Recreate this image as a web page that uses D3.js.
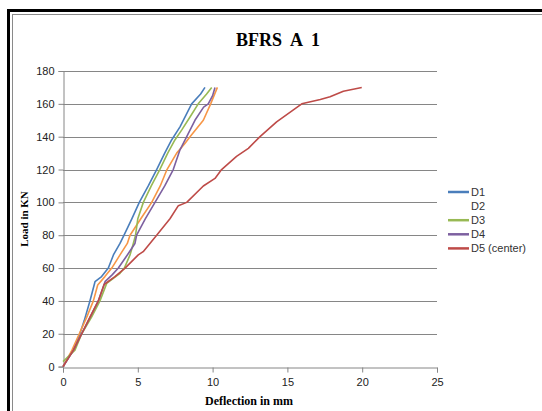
<!DOCTYPE html>
<html>
<head>
<meta charset="utf-8">
<script src="https://cdn.jsdelivr.net/npm/d3@7"></script>
<style>
  body { margin: 0; background: #fff; }
  svg { display: block; }
</style>
</head>
<body>
<script>
// deflection (mm), load (kN)
let d1 = [[0,0],[0.69,10],[1.13,20],[1.42,28],[1.8,40],[2.14,51.7],[2.58,54.8],[3.03,60],[3.37,68],[3.81,75],[4.08,80],[4.6,90],[5.1,100],[5.7,110],[6.26,120],[6.8,130],[7.26,138],[7.82,146],[8.27,154],[8.6,160],[9.2,166],[9.49,170]];
let d2 = [[0,0],[0.6,10],[1.09,20],[1.58,30],[2.03,40],[2.32,49.7],[2.8,54.8],[3.26,60],[3.81,68],[4.3,75],[4.48,80],[5.2,90],[5.93,100],[6.5,110],[6.95,120],[7.6,130],[8.16,136],[8.49,140],[9.38,150],[9.87,160],[10.32,170]];
let d3v = [[0,3],[0.8,10],[1.25,20],[1.9,30],[2.47,40],[2.92,50.7],[3.81,56.8],[4.1,60],[4.48,68],[4.7,75],[4.85,80],[5.0,90],[5.37,100],[5.9,110],[6.47,120],[7.0,130],[7.48,138],[7.93,144],[8.49,152],[9.04,160],[9.6,166],[9.94,170]];
let d4 = [[0,0],[0.7,10],[1.25,20],[1.8,30],[2.36,40],[2.81,51.7],[3.3,56],[3.7,60],[4.3,68],[4.81,75],[4.92,80],[5.5,90],[6.15,100],[6.8,110],[7.37,120],[7.82,132],[8.27,140],[8.82,150],[9.4,158],[9.71,160],[10.0,165],[10.16,170]];
let d5 = [[0,0],[0.7,10],[1.25,20],[1.8,30],[2.36,40],[2.75,50],[3.47,54.8],[4.15,60],[5.03,68],[5.36,70],[5.81,75],[6.26,80],[7.15,90],[7.71,98],[8.27,100],[9.38,110],[10.16,114.6],[10.6,120],[11.6,128],[12.39,132.9],[13.17,140],[14.28,149],[15.4,156.3],[15.96,160],[17.2,162.7],[17.85,164.3],[18.74,167.7],[19.97,170]];

let names = ["D1", "D2", "D3", "D4", "D5 (center)"];
let colors = ["#4a7ebb", "#f79646", "#98b954", "#7d60a0", "#be4b48"];
let xTicks = [0, 5, 10, 15, 20, 25];
let yTicks = [0, 20, 40, 60, 80, 100, 120, 140, 160, 180];

let width = 542, height = 411;
let series = [d1, d2, d3v, d4, d5];

let svg = d3.select("body").append("svg")
    .attr("width", width)
    .attr("height", height);

// double frame, runs off the right and bottom edge
svg.append("rect").attr("x", 8.5).attr("y", 10.5).attr("width", 600).attr("height", 500)
    .attr("fill", "none").attr("stroke", "#000").attr("stroke-width", 3);
svg.append("rect").attr("x", 12.5).attr("y", 14.5).attr("width", 600).attr("height", 500)
    .attr("fill", "none").attr("stroke", "#8a8a8a").attr("stroke-width", 1);

let x = d3.scaleLinear().domain([0, 25]).range([63, 437]);
let y = d3.scaleLinear().domain([0, 180]).range([366.6, 71]);

// grid
svg.append("g").selectAll("line")
    .data(yTicks.slice(1))
    .enter().append("line")
    .attr("x1", x(0)).attr("x2", x(25))
    .attr("y1", d => Math.round(y(d)) + 0.5).attr("y2", d => Math.round(y(d)) + 0.5)
    .attr("stroke", "#868686").attr("stroke-width", 1);

let yAxis = svg.append("g")
    .attr("transform", "translate(" + (Math.round(x(0)) + 0.5) + ",0)")
    .call(d3.axisLeft(y).tickValues(yTicks).tickSize(5).tickPadding(4));
let xAxis = svg.append("g")
    .attr("transform", "translate(0," + (Math.round(y(0)) + 0.5) + ")")
    .call(d3.axisBottom(x).tickValues(xTicks).tickSize(5).tickPadding(6));

[yAxis, xAxis].forEach(function (a) {
    a.select(".domain").attr("stroke", "#868686");
    a.selectAll(".tick line").attr("stroke", "#868686");
    a.selectAll("text")
        .attr("font-family", "Liberation Sans Narrow, Liberation Sans, Arial, sans-serif")
        .attr("font-size", 11)
        .attr("fill", "#222");
});

let line = d3.line().x(d => x(d[0])).y(d => y(d[1]));

series.forEach(function (s, i) {
    svg.append("path")
        .datum(s)
        .attr("fill", "none")
        .attr("stroke", colors[i])
        .attr("stroke-width", 1.6)
        .attr("stroke-linejoin", "round")
        .attr("d", line);
});

// title
svg.append("text")
    .attr("x", 278).attr("y", 46)
    .attr("text-anchor", "middle")
    .attr("font-family", "Liberation Serif, serif")
    .attr("font-size", 18)
    .attr("font-weight", "bold")
    .style("white-space", "pre")
    .text("BFRS  A  1");

svg.append("text")
    .attr("transform", "translate(28,219) rotate(-90)")
    .attr("text-anchor", "middle")
    .attr("font-family", "Liberation Serif, serif")
    .attr("font-size", 11)
    .attr("font-weight", "bold")
    .text("Load in KN");

svg.append("text")
    .attr("x", 249).attr("y", 405)
    .attr("text-anchor", "middle")
    .attr("font-family", "Liberation Serif, serif")
    .attr("font-size", 12)
    .attr("font-weight", "bold")
    .text("Deflection in mm");

// legend (the D2 swatch does not show in the picture)
let legend = svg.append("g").selectAll("g")
    .data(names)
    .enter().append("g")
    .attr("transform", (d, i) => "translate(448," + (192 + i * 14.1) + ")");

legend.append("line")
    .attr("x1", 0).attr("x2", 21)
    .attr("stroke", (d, i) => i === 1 ? "none" : colors[i])
    .attr("stroke-width", 2.5);

legend.append("text")
    .attr("x", 23).attr("dy", "0.35em")
    .attr("font-family", "Liberation Sans, Arial, sans-serif")
    .attr("font-size", 11)
    .attr("fill", "#333")
    .text(d => d);
</script>
</body>
</html>
